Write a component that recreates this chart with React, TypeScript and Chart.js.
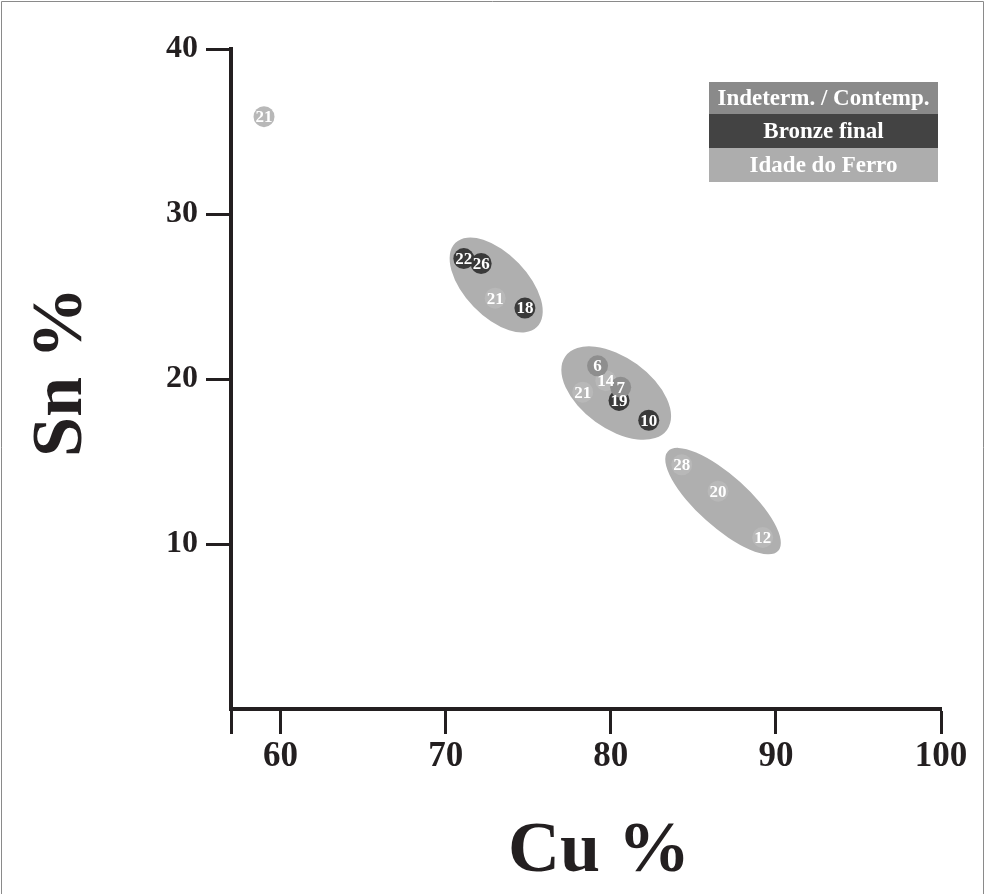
import React, { useEffect, useRef } from "react";
import { Chart, registerables } from "chart.js";

Chart.register(...registerables);

// Series: Idade do Ferro
const ferroCu = [59.0, 73.0, 78.3, 79.7, 84.3, 86.5, 89.2];
const ferroSn = [35.9, 24.9, 19.2, 19.9, 14.8, 13.2, 10.4];
const ferroLabels = ["21", "21", "21", "14", "28", "20", "12"];

// Series: Bronze final
const bronzeCu = [71.1, 72.15, 74.8, 80.5, 82.3];
const bronzeSn = [27.3, 27.0, 24.3, 18.7, 17.5];
const bronzeLabels = ["22", "26", "18", "19", "10"];

// Series: Indeterm. / Contemp.
const indetCu = [79.2, 80.6];
const indetSn = [20.8, 19.5];
const indetLabels = ["6", "7"];

// Groupings (ellipses) in data units
const groupCu = [73.06, 80.33, 86.8];
const groupSn = [25.7, 19.15, 12.6];
const groupMajor = [3.55, 3.8, 4.5];
const groupMinor = [1.9, 2.15, 1.55];
const groupTilt = [46, 36, 42];

const xTicks = [57, 60, 70, 80, 90, 100];
const yTicks = [10, 20, 30, 40];
const legendLabels = ["Indeterm. / Contemp.", "Bronze final", "Idade do Ferro"];
const legendColors = ["#8a8a8a", "#434343", "#adadad"];

const SERIF = '"Liberation Serif", "Times New Roman", serif';
const AXIS = "#231f20";

function toPts(xs: number[], ys: number[]) {
  return xs.map((x, i) => ({ x, y: ys[i] }));
}

const decorPlugin = {
  id: "decor",
  beforeDatasetsDraw(chart: any) {
    const { ctx, scales } = chart;
    const xs = scales.x;
    const ys = scales.y;
    const ppu = Math.abs(xs.getPixelForValue(1 + xs.min) - xs.getPixelForValue(xs.min));
    const ppuY = Math.abs(ys.getPixelForValue(1) - ys.getPixelForValue(0));
    ctx.save();
    ctx.fillStyle = "#afafaf";
    for (let i = 0; i < groupCu.length; i++) {
      const cx = xs.getPixelForValue(groupCu[i]);
      const cy = ys.getPixelForValue(groupSn[i]);
      ctx.beginPath();
      ctx.ellipse(cx, cy, groupMajor[i] * ppu, groupMinor[i] * ppuY, (groupTilt[i] * Math.PI) / 180, 0, Math.PI * 2);
      ctx.fill();
    }
    ctx.restore();
  },
  afterDatasetsDraw(chart: any) {
    const { ctx } = chart;
    ctx.save();
    ctx.fillStyle = "#ffffff";
    ctx.textAlign = "center";
    ctx.textBaseline = "middle";
    ctx.font = `bold 17px ${SERIF}`;
    chart.data.datasets.forEach((ds: any, di: number) => {
      const meta = chart.getDatasetMeta(di);
      meta.data.forEach((el: any, i: number) => {
        ctx.fillText(ds.pointLabels[i], el.x, el.y + 1);
      });
    });
    ctx.restore();
  },
  afterDraw(chart: any) {
    const { ctx, width, height } = chart;
    ctx.save();
    // frame
    ctx.strokeStyle = "#8a8a8a";
    ctx.lineWidth = 1;
    ctx.beginPath();
    ctx.moveTo(1.5, height);
    ctx.lineTo(1.5, 1.5);
    ctx.lineTo(width - 1.5, 1.5);
    ctx.lineTo(width - 1.5, height);
    ctx.stroke();

    // legend
    const lx = 709;
    const lw = 229;
    const rows = [82, 114, 148, 182];
    ctx.textAlign = "center";
    ctx.textBaseline = "middle";
    ctx.font = `bold 23px ${SERIF}`;
    for (let i = 0; i < legendLabels.length; i++) {
      ctx.fillStyle = legendColors[i];
      ctx.fillRect(lx, rows[i], lw, rows[i + 1] - rows[i]);
      ctx.fillStyle = "#ffffff";
      ctx.fillText(legendLabels[i], lx + lw / 2, (rows[i] + rows[i + 1]) / 2 + 1);
    }

    // axis titles
    ctx.fillStyle = "#231f20";
    ctx.font = `bold 72px ${SERIF}`;
    ctx.fillText("Cu %", 599, 852);
    ctx.translate(62, 372);
    ctx.rotate(-Math.PI / 2);
    ctx.fillText("Sn %", 0, 0);
    ctx.restore();
  },
};

export default function App() {
  const ref = useRef<HTMLCanvasElement | null>(null);
  useEffect(() => {
    if (!ref.current) return;
    const mk = (label: string, xs: number[], ys: number[], labels: string[], color: string) => ({
      label,
      data: toPts(xs, ys),
      pointLabels: labels,
      backgroundColor: color,
      borderColor: color,
      pointRadius: 10.5,
      pointHoverRadius: 10.5,
      borderWidth: 0,
      showLine: false,
    });
    const chart = new Chart(ref.current, {
      type: "scatter",
      data: {
        datasets: [
          mk(legendLabels[0], indetCu, indetSn, indetLabels, "#8e8e8e"),
          mk(legendLabels[2], ferroCu, ferroSn, ferroLabels, "#b8b8b8"),
          mk(legendLabels[1], bronzeCu, bronzeSn, bronzeLabels, "#3a3a3a"),
        ] as any,
      },
      options: {
        animation: false,
        responsive: false,
        devicePixelRatio: 1,
        layout: { padding: { top: 49, right: 44, left: 0, bottom: 0 } },
        plugins: { legend: { display: false }, tooltip: { enabled: false } },
        scales: {
          x: {
            type: "linear",
            min: 57,
            max: 100,
            afterBuildTicks: (s: any) => {
              s.ticks = xTicks.map((v) => ({ value: v }));
            },
            afterFit: (s: any) => {
              s.height = 185;
            },
            ticks: {
              callback: (v: any) => (v === 57 ? "" : String(v)),
              font: { family: SERIF, size: 35, weight: "bold" },
              color: AXIS,
              padding: 2,
              maxRotation: 0,
            },
            grid: {
              display: true,
              drawOnChartArea: false,
              drawTicks: true,
              tickLength: 25,
              tickWidth: 3,
              color: AXIS,
            },
            border: { display: true, width: 4, color: AXIS },
          },
          y: {
            type: "linear",
            min: 0,
            max: 40,
            afterBuildTicks: (s: any) => {
              s.ticks = yTicks.map((v) => ({ value: v }));
            },
            afterFit: (s: any) => {
              s.width = 231;
            },
            ticks: {
              font: { family: SERIF, size: 32, weight: "bold" },
              color: AXIS,
              padding: 8,
            },
            grid: {
              display: true,
              drawOnChartArea: false,
              drawTicks: true,
              tickLength: 25,
              tickWidth: 3,
              color: AXIS,
            },
            border: { display: true, width: 4, color: AXIS },
          },
        },
      } as any,
      plugins: [decorPlugin],
    });
    return () => chart.destroy();
  }, []);
  return (
    <div style={{ position: "absolute", left: 0, top: 0, width: 985, height: 894, background: "#fff" }}>
      <canvas ref={ref} width={985} height={894} style={{ display: "block", width: 985, height: 894 }} />
    </div>
  );
}
